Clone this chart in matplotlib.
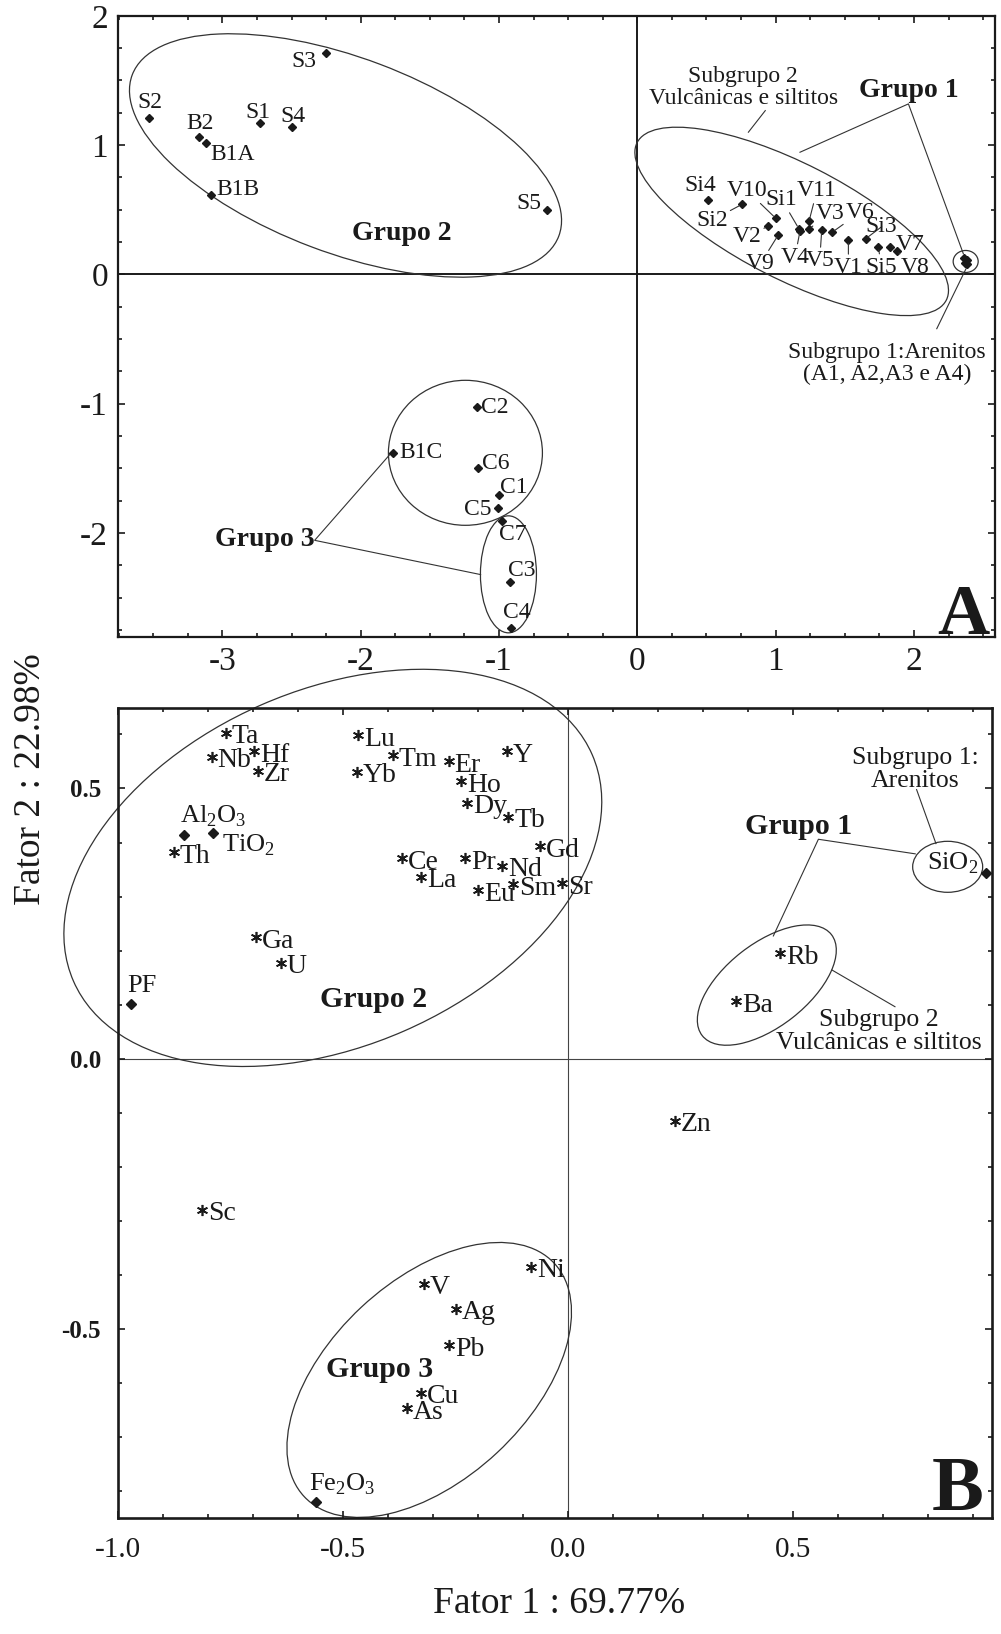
import matplotlib
matplotlib.use('Agg')
import matplotlib.pyplot as plt
from matplotlib.patches import Ellipse
from matplotlib.transforms import ScaledTranslation
from matplotlib.ticker import MultipleLocator

plt.rcParams['font.family'] = ['Liberation Serif', 'DejaVu Serif']
plt.rcParams['mathtext.fontset'] = 'custom'
plt.rcParams['mathtext.rm'] = 'Liberation Serif'
plt.rcParams['axes.unicode_minus'] = False

# ---------------- dados: A (amostras) ----------------
amostras = ['S2', 'B2', 'B1A', 'S1', 'S4', 'S3', 'B1B', 'S5',
            'Si4', 'Si2', 'V10', 'V2', 'V9', 'Si1', 'V4', 'V11', 'V3', 'V5',
            'V6', 'V1', 'Si3', 'Si5', 'V7', 'V8',
            'A1', 'A2', 'A3', 'A4',
            'C2', 'B1C', 'C6', 'C1', 'C5', 'C7', 'C3', 'C4']
f1_am = [-3.53, -3.17, -3.12, -2.73, -2.50, -2.25, -3.08, -0.65,
         0.51, 0.755, 1.00, 0.943, 1.02, 1.167, 1.176, 1.241, 1.241, 1.333,
         1.41, 1.526, 1.651, 1.743, 1.827, 1.876,
         2.364, 2.38, 2.37, 2.385,
         -1.16, -1.77, -1.15, -1.00, -1.01, -0.98, -0.92, -0.91]
f2_am = [1.207, 1.066, 1.014, 1.174, 1.14, 1.709, 0.613, 0.497,
         0.577, 0.541, 0.435, 0.371, 0.307, 0.355, 0.335, 0.41, 0.353, 0.34,
         0.327, 0.263, 0.276, 0.211, 0.211, 0.18,
         0.126, 0.108, 0.09, 0.077,
         -1.028, -1.381, -1.497, -1.704, -1.807, -1.91, -2.381, -2.735]

# ---------------- dados: B (variaveis) ----------------
elementos = ['Ta', 'Nb', 'Hf', 'Zr', 'Lu', 'Tm', 'Er', 'Y', 'Yb', 'Ho', 'Dy',
             'Tb', 'Th', 'Gd', 'Ce', 'Pr', 'Nd', 'La', 'Eu', 'Sm', 'Sr', 'Ga',
             'U', 'Rb', 'Ba', 'Zn', 'Sc', 'Ni', 'V', 'Ag', 'Pb', 'Cu', 'As']
f1_el = [-0.760, -0.791, -0.696, -0.689, -0.465, -0.389, -0.265, -0.135,
         -0.468, -0.237, -0.224, -0.132, -0.875, -0.063, -0.368, -0.229,
         -0.146, -0.326, -0.200, -0.121, -0.013, -0.692, -0.638, 0.471,
         0.373, 0.237, -0.812, -0.082, -0.320, -0.249, -0.263, -0.327, -0.358]
f2_el = [0.603, 0.559, 0.569, 0.533, 0.599, 0.562, 0.550, 0.569, 0.531,
         0.513, 0.474, 0.448, 0.382, 0.393, 0.371, 0.371, 0.357, 0.337,
         0.312, 0.323, 0.325, 0.225, 0.177, 0.195, 0.106, -0.115, -0.280,
         -0.385, -0.417, -0.463, -0.531, -0.619, -0.647]

oxidos = ['Al$_\\mathregular{2}$O$_\\mathregular{3}$', 'TiO$_\\mathregular{2}$', 'PF',
          'SiO$_\\mathregular{2}$', 'Fe$_\\mathregular{2}$O$_\\mathregular{3}$']
f1_ox = [-0.853, -0.788, -0.971, 0.927, -0.559]
f2_ox = [0.413, 0.417, 0.101, 0.343, -0.821]

# ---------------- layout ----------------
# offsets (px) of the sample labels; 1 = leader line
rot_A = {
    'S2': (1, 16, 0), 'B2': (1, 13, 0), 'B1A': (27, -11, 0), 'S1': (-2, 10, 0),
    'S4': (1, 11, 0), 'S3': (-22, -8, 0), 'B1B': (27, 6, 0), 'S5': (-19, 7, 0),
    'Si4': (-8, 14, 0), 'Si2': (-30, -16, 1), 'V10': (-29, 28, 1),
    'V2': (-21, -10, 1), 'V9': (-18, -29, 1), 'Si1': (-17, 29, 1),
    'V4': (-5, -26, 1), 'V11': (8, 31, 1), 'V3': (21, 15, 1), 'V5': (-2, -30, 1),
    'V6': (28, 20, 1), 'V1': (0, -27, 1), 'Si3': (16, 12, 1), 'Si5': (3, -20, 1),
    'V7': (20, 3, 1), 'V8': (18, -16, 1),
    'C2': (18, 0, 0), 'B1C': (28, 0, 0), 'C6': (17, 4, 0), 'C1': (15, 7, 0),
    'C5': (-20, -1, 0), 'C7': (11, -13, 0), 'C3': (12, 12, 0), 'C4': (5, 15, 0),
}
rot_ox = [(-4, 19, 'left'), (9, -12, 'left'), (-3, 18, 'left'),
          (-7, 10, 'right'), (-7, 18, 'left')]

INK = '#1a1a1a'
LINE = '#333333'

fig = plt.figure(figsize=(10.01, 16.34), dpi=100)
axA = fig.add_axes([0.1176, 0.6103, 0.8764, 0.3800])
axB = fig.add_axes([0.1174, 0.0712, 0.8736, 0.4955])


def oval(ax, cx, cy, w, h, ang=0):
    # ellipse size in pixels, centre in data units
    e = Ellipse((0, 0), w, h, angle=ang, fill=False, lw=0.9, ec=LINE,
                transform=ScaledTranslation(cx, cy, ax.transData), clip_on=False)
    ax.add_patch(e)


def estilo(ax, xl, yl, xmaj, xmin, ymaj, ymin, sw):
    ax.set_xlim(*xl)
    ax.set_ylim(*yl)
    ax.xaxis.set_major_locator(MultipleLocator(xmaj))
    ax.xaxis.set_minor_locator(MultipleLocator(xmin))
    ax.yaxis.set_major_locator(MultipleLocator(ymaj))
    ax.yaxis.set_minor_locator(MultipleLocator(ymin))
    ax.tick_params(which='both', direction='in', top=True, right=True,
                   colors=INK, width=1.2)
    ax.tick_params(which='major', length=5)
    ax.tick_params(which='minor', length=3)
    for s in ax.spines.values():
        s.set_linewidth(sw)
        s.set_color(INK)


# ================= painel A =================
estilo(axA, (-3.757, 2.586), (-2.803, 2.0), 1, 0.25, 1, 0.25, 1.6)
axA.axhline(0, color=INK, lw=1.4, zorder=1)
axA.axvline(0, color=INK, lw=1.4, zorder=1)
axA.plot(f1_am, f2_am, 'D', color=INK, ms=4.2, zorder=3)
for nome, x, y in zip(amostras, f1_am, f2_am):
    if nome not in rot_A:
        continue
    dx, dy, lead = rot_A[nome]
    axA.annotate(nome, (x, y), xytext=(dx, dy), textcoords='offset pixels',
                 ha='center', va='center', fontsize=17, color=INK,
                 arrowprops=dict(arrowstyle='-', lw=0.8, color=LINE,
                                 shrinkA=0, shrinkB=2) if lead else None)
axA.xaxis.set_major_formatter(plt.FuncFormatter(lambda v, p: '%d' % round(v)))
axA.yaxis.set_major_formatter(plt.FuncFormatter(lambda v, p: '%d' % round(v)))
axA.tick_params(axis='both', labelsize=24, pad=7)

oval(axA, -2.11, 0.92, 456, 195, -20.7)
oval(axA, 1.116, 0.41, 347, 116, -27)
oval(axA, 2.374, 0.10, 25, 22)
oval(axA, -1.243, -1.38, 154, 145)
oval(axA, -0.932, -2.32, 56, 117)

axA.text(-1.704, 0.314, 'Grupo 2', fontsize=20, fontweight='bold',
         ha='center', va='center', color=INK)
axA.text(1.96, 1.422, 'Grupo 1', fontsize=20, fontweight='bold',
         ha='center', va='center', color=INK)
axA.plot([1.176, 1.96, 2.357], [0.945, 1.319, 0.160], color=LINE, lw=0.8)
axA.text(0.766, 1.447, 'Subgrupo 2\nVulcânicas e siltitos', fontsize=17,
         ha='center', va='center', color=INK, linespacing=1.1)
axA.plot([0.925, 0.803], [1.267, 1.10], color=LINE, lw=0.8)
axA.text(1.803, -0.69, 'Subgrupo 1:Arenitos\n(A1, A2,A3 e A4)', fontsize=17,
         ha='center', va='center', color=INK, linespacing=1.1)
axA.plot([2.165, 2.382], [-0.42, 0.056], color=LINE, lw=0.8)
axA.text(-2.694, -2.05, 'Grupo 3', fontsize=20, fontweight='bold',
         ha='center', va='center', color=INK)
axA.plot([-1.79, -2.333, -1.133], [-1.394, -2.057, -2.322], color=LINE, lw=0.8)
axA.text(0.994, 0.004, 'A', transform=axA.transAxes, fontsize=52,
         fontweight='bold', ha='right', va='baseline', color=INK)

# ================= painel B =================
estilo(axB, (-1.0, 0.9414), (-0.85, 0.649), 0.5, 0.1, 0.5, 0.1, 1.9)
axB.axhline(0, color='#444444', lw=0.8, zorder=1)
axB.axvline(0, color='#444444', lw=0.8, zorder=1)
axB.plot(f1_el, f2_el, ls='none', marker=(6, 2, 0), ms=8, mew=1.2,
         color=INK, zorder=3)
for nome, x, y in zip(elementos, f1_el, f2_el):
    axB.annotate(nome, (x, y), xytext=(6, -4), textcoords='offset pixels',
                 ha='left', va='center', fontsize=20, color=INK)
axB.plot(f1_ox, f2_ox, 'D', color=INK, ms=5, zorder=3)
for nome, x, y, (dx, dy, ha) in zip(oxidos, f1_ox, f2_ox, rot_ox):
    axB.annotate(nome, (x, y), xytext=(dx, dy), textcoords='offset pixels',
                 ha=ha, va='center', fontsize=19, color=INK)
axB.xaxis.set_major_formatter(plt.FuncFormatter(lambda v, p: '%.1f' % v))
axB.yaxis.set_major_formatter(plt.FuncFormatter(lambda v, p: '%.1f' % v))
axB.tick_params(axis='x', labelsize=21, pad=14)
axB.tick_params(axis='y', labelsize=18, pad=12)
for t in axB.get_yticklabels():
    t.set_fontweight('bold')

oval(axB, -0.522, 0.353, 566, 356, 23.6)
oval(axB, -0.308, -0.595, 342, 199, 43)
oval(axB, 0.4415, 0.136, 164, 83, 38)
oval(axB, 0.843, 0.355, 70, 51)

axB.text(-0.431, 0.109, 'Grupo 2', fontsize=21.5, fontweight='bold',
         ha='center', va='center', color=INK)
axB.text(-0.418, -0.575, 'Grupo 3', fontsize=21.5, fontweight='bold',
         ha='center', va='center', color=INK)
axB.text(0.512, 0.43, 'Grupo 1', fontsize=21.5, fontweight='bold',
         ha='center', va='center', color=INK)
axB.plot([0.771, 0.556, 0.456], [0.379, 0.406, 0.227], color=LINE, lw=0.8)
axB.text(0.771, 0.535, 'Subgrupo 1:\nArenitos', fontsize=18.5,
         ha='center', va='center', color=INK, linespacing=1.05)
axB.plot([0.774, 0.817], [0.498, 0.398], color=LINE, lw=0.8)
axB.text(0.691, 0.05, 'Subgrupo 2\nVulcânicas e siltitos', fontsize=18.5,
         ha='center', va='center', color=INK, linespacing=1.05)
axB.plot([0.726, 0.586], [0.096, 0.164], color=LINE, lw=0.8)
axB.text(0.99, 0.01, 'B', transform=axB.transAxes, fontsize=56,
         fontweight='bold', ha='right', va='baseline', color=INK)

fig.text(0.031, 1 - 779 / 1634, 'Fator 2 : 22.98%', rotation=90, fontsize=27,
         ha='center', va='center', color=INK)
fig.text(559 / 1001, 1 - 1604 / 1634, 'Fator 1 : 69.77%', fontsize=27,
         ha='center', va='center', color=INK)

fig.savefig('out.png', dpi=100)
